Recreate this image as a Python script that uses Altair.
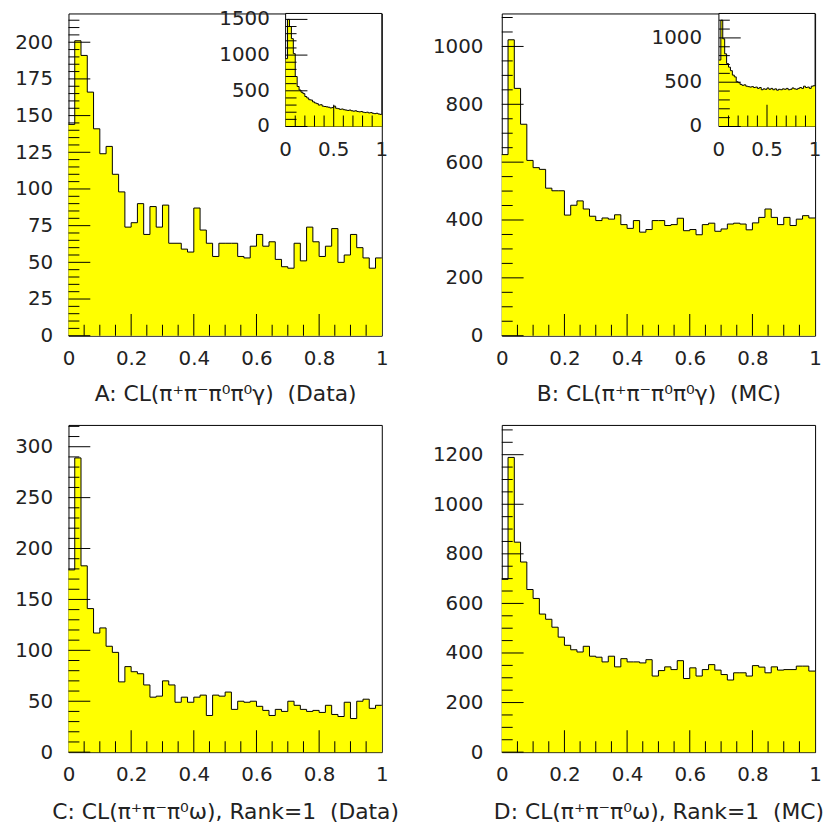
import altair as alt
import pandas as pd

FONT = "DejaVu Sans"
YELLOW = "#FFFF00"
TXT = "#222222"
FS = 20

# ---- data (50 bins on [0,1]) ----
a_counts = [144, 201, 191, 166, 141, 124, 129, 110, 98, 74, 77, 90, 69, 88, 74, 89, 63, 63, 59, 57,
            87, 72, 63, 54, 63, 63, 63, 54, 53, 61, 69, 61, 64, 52, 47, 46, 63, 51, 74, 64,
            54, 61, 73, 50, 55, 69, 60, 53, 46, 53]
b_counts = [626, 1023, 855, 731, 606, 581, 575, 510, 501, 501, 417, 451, 466, 438, 413, 398, 407, 403, 418, 384,
            371, 398, 358, 367, 398, 398, 381, 384, 406, 363, 367, 349, 384, 389, 361, 369, 386, 389, 386, 366,
            390, 409, 438, 409, 384, 409, 381, 403, 415, 407]
c_counts = [179, 289, 183, 141, 117, 122, 104, 98, 69, 84, 79, 77, 66, 54, 55, 70, 66, 49, 54, 49,
            54, 56, 36, 56, 55, 59, 42, 50, 49, 50, 45, 41, 36, 42, 40, 50, 46, 42, 40, 41,
            39, 46, 37, 35, 49, 33, 50, 52, 43, 46]
d_counts = [697, 1189, 847, 767, 656, 620, 557, 536, 504, 464, 431, 413, 404, 427, 387, 383, 364, 387, 344, 377,
            364, 364, 360, 373, 307, 329, 344, 333, 369, 297, 340, 307, 333, 353, 331, 313, 291, 320, 320, 307,
            349, 343, 320, 344, 331, 333, 333, 347, 347, 327]
a_inset = [950, 1500, 1400, 1230, 1020, 700, 560, 510, 480, 460, 420, 400, 375, 370, 345, 330, 320, 300, 305, 285,
           280, 275, 270, 260, 265, 285, 255, 250, 240, 245, 235, 230, 225, 230, 220, 215, 220, 210, 205, 210,
           200, 195, 200, 190, 195, 185, 180, 185, 175, 170]
b_inset = [750, 1200, 990, 820, 710, 670, 630, 580, 560, 505, 495, 475, 465, 470, 455, 450, 445, 450, 440, 445,
           430, 440, 415, 425, 420, 435, 420, 430, 415, 425, 410, 420, 415, 425, 420, 430, 415, 420, 435, 425,
           420, 430, 440, 430, 455, 440, 445, 430, 455, 460]

titles = {
    "A": "A: CL(π⁺π⁻π⁰π⁰γ)\u00a0 (Data)",
    "B": "B: CL(π⁺π⁻π⁰π⁰γ)\u00a0 (MC)",
    "C": "C: CL(π⁺π⁻π⁰ω), Rank=1\u00a0 (Data)",
    "D": "D: CL(π⁺π⁻π⁰ω), Rank=1\u00a0 (MC)",
}

x_major = [0.2, 0.4, 0.6, 0.8]
x_labels = [0, 0.2, 0.4, 0.6, 0.8, 1]
inset_x_labels = [0, 0.5, 1]

NB = 50
edges = [i / NB for i in range(NB + 1)]
W = 316


def step_df(counts):
    return pd.DataFrame({"x": edges, "y": list(counts) + [counts[-1]]})


def frange(step, top, skip=()):
    out = []
    k = 1
    while k * step <= top + 1e-9:
        v = round(k * step, 6)
        if not any(abs(v - s) < 1e-9 for s in skip):
            out.append(v)
        k += 1
    return out


def ticks(xs, ys, yvals, ystep_minor, ymax, xmaj, xmin_step, maj=22, mnr=11):
    layers = []
    dfy_maj = pd.DataFrame({"v": yvals, "z": 0.0})
    dfy_min = pd.DataFrame({"v": frange(ystep_minor, ymax, yvals), "z": 0.0})
    for df, L in ((dfy_maj, maj), (dfy_min, mnr)):
        layers.append(alt.Chart(df).mark_tick(orient="horizontal", size=L, thickness=1, color="black",
                                              opacity=1, xOffset=L / 2).encode(
            x=alt.X("z:Q", scale=xs, axis=None),
            y=alt.Y("v:Q", scale=ys, axis=None)))
    dfx_maj = pd.DataFrame({"v": xmaj, "z": 0.0})
    dfx_min = pd.DataFrame({"v": frange(xmin_step, 0.999, xmaj), "z": 0.0})
    for df, L in ((dfx_maj, maj), (dfx_min, mnr)):
        layers.append(alt.Chart(df).mark_tick(orient="vertical", size=L, thickness=1, color="black",
                                              opacity=1, yOffset=-L / 2).encode(
            x=alt.X("v:Q", scale=xs, axis=None),
            y=alt.Y("z:Q", scale=ys, axis=None)))
    return layers


def hist_area(counts, xs, ys, xaxis=None, yaxis=None):
    return alt.Chart(step_df(counts)).mark_area(
        interpolate="step-after", color=YELLOW, opacity=1, fillOpacity=1,
        line=alt.OverlayMarkDef(color="black", strokeWidth=1, opacity=1)).encode(
        x=alt.X("x:Q", scale=xs, axis=xaxis),
        y=alt.Y("y:Q", scale=ys, axis=yaxis))


def inset_layers(counts, imax, ivals, x0, x1, ybot, ldx):
    xs = alt.Scale(domain=[0, 1], range=[x0, x1], nice=False, zero=False)
    ys = alt.Scale(domain=[0, imax], range=[ybot, 0], nice=False, zero=False)
    frame = alt.Chart(pd.DataFrame({"x": [0.0], "x2": [1.0], "y": [0.0], "y2": [imax]})).mark_rect(
        fill="white", stroke="black", strokeWidth=1, opacity=1).encode(
        x=alt.X("x:Q", scale=xs, axis=None), x2="x2:Q",
        y=alt.Y("y:Q", scale=ys, axis=None), y2="y2:Q")
    area = hist_area(counts, xs, ys)
    tk = ticks(xs, ys, ivals, 100, imax, [0.5], 0.1, maj=22, mnr=11)
    ylab = alt.Chart(pd.DataFrame({"v": ivals, "z": 0.0, "t": [str(v) for v in ivals]})).mark_text(
        align="right", baseline="middle", dx=-ldx, font=FONT, fontSize=FS, color=TXT).encode(
        x=alt.X("z:Q", scale=xs, axis=None), y=alt.Y("v:Q", scale=ys, axis=None), text="t:N")
    xlab = alt.Chart(pd.DataFrame({"v": inset_x_labels, "z": 0.0,
                                   "t": ["0", "0.5", "1"]})).mark_text(
        align="center", baseline="top", dy=14, font=FONT, fontSize=FS, color=TXT).encode(
        x=alt.X("v:Q", scale=xs, axis=None), y=alt.Y("z:Q", scale=ys, axis=None), text="t:N")
    return [frame, area] + tk + [ylab, xlab]


def panel(counts, ymax, yvals, ystep_minor, title, h, lpad, tpad, inset=None):
    xs = alt.Scale(domain=[0, 1], nice=False, zero=False)
    ys = alt.Scale(domain=[0, ymax], nice=False, zero=False)
    area = hist_area(
        counts, xs, ys,
        xaxis=alt.Axis(values=x_labels, format="~g", title=title, ticks=False, tickSize=0, domain=False,
                       grid=False, labelPadding=13, titlePadding=tpad, labelFlush=False),
        yaxis=alt.Axis(values=yvals, format="d", title=None, ticks=False, tickSize=0, domain=False,
                       grid=False, labelPadding=lpad))
    layers = [area] + ticks(xs, ys, yvals, ystep_minor, ymax, x_major, 0.05)
    if inset is not None:
        layers += inset_layers(*inset)
    return alt.layer(*layers).resolve_scale(x="independent", y="independent").properties(width=W, height=h)


HT = 325
HB = 330
pA = panel(a_counts, 219.6, [0, 25, 50, 75, 100, 125, 150, 175, 200], 5, titles["A"], HT, 16, 15,
           inset=(a_inset, 1583, [0, 500, 1000, 1500], 219, 316, 114, 16))
pB = panel(b_counts, 1114, [0, 200, 400, 600, 800, 1000], 50, titles["B"], HT, 19, 15,
           inset=(b_inset, 1276, [0, 500, 1000], 219, 316, 114, 17))
pC = panel(c_counts, 321.4, [0, 50, 100, 150, 200, 250, 300], 10, titles["C"], HB, 16, 17)
pD = panel(d_counts, 1320, [0, 200, 400, 600, 800, 1000, 1200], 50, titles["D"], HB, 19, 17)

chart = alt.concat(pA, pB, pC, pD, columns=2, spacing={"row": 90, "column": 121}, bounds="flush").properties(
    padding={"left": 6, "top": -3, "right": 0, "bottom": 0}
).configure_view(stroke="black", strokeWidth=1).configure_axis(
    labelFont=FONT, labelFontSize=FS, labelColor=TXT, titleFont=FONT, titleFontSize=22,
    titleColor=TXT, titleFontWeight="normal"
)

chart.save("out.html", embed_options={"renderer": "svg", "actions": False})
